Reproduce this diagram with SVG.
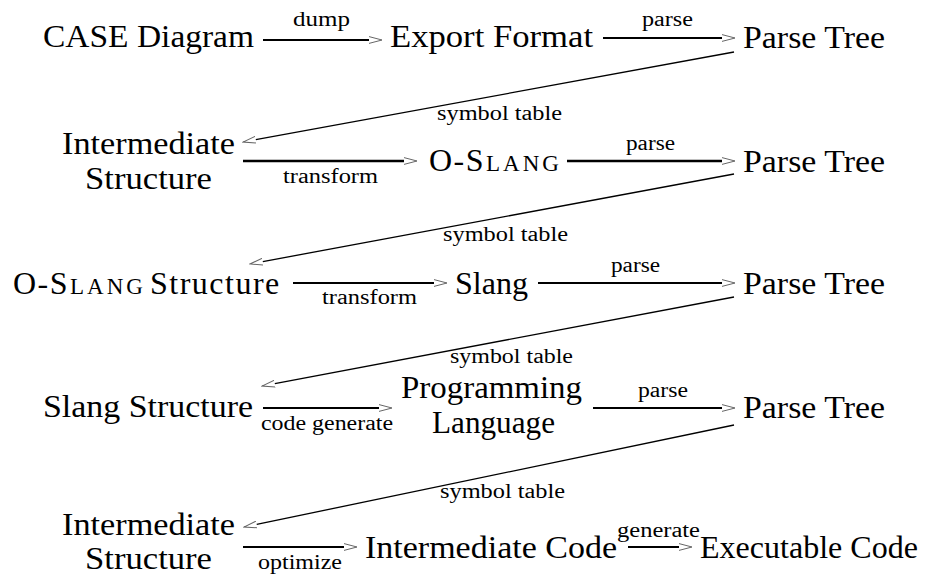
<svg xmlns="http://www.w3.org/2000/svg" width="933" height="577" viewBox="0 0 933 577">
<style>
.n{font-size:32px;fill:#000}
.l{font-size:20px;fill:#000}
.sc{font-size:23px}
.h{fill:none;stroke:#000;stroke-width:2}
.d{fill:none;stroke:#000;stroke-width:1.3}
</style>
<defs>
<marker id="ah" viewBox="0 0 14 8" refX="0" refY="4" markerWidth="14" markerHeight="8" orient="auto" markerUnits="userSpaceOnUse">
<path d="M0,0.6 L13,4 L0,7.4" fill="none" stroke="#666" stroke-width="1"/>
</marker>
</defs>
<rect width="933" height="577" fill="#fff"/>
<g font-family="'Liberation Serif', 'Times New Roman', 'DejaVu Serif', serif">
<g id="connectors">
<path class="h" d="M263,40 H369" marker-end="url(#ah)"/>
<path class="h" d="M603,38 H722" marker-end="url(#ah)"/>
<path class="d" d="M734,52 L255.8,139.7" marker-end="url(#ah)"/>
<path class="h" style="stroke-width:2.5" d="M243,161 H404" marker-end="url(#ah)"/>
<path class="h" style="stroke-width:2.5" d="M567,161 H722" marker-end="url(#ah)"/>
<path class="d" d="M734,174 L262.8,261.6" marker-end="url(#ah)"/>
<path class="h" d="M293,283 H434" marker-end="url(#ah)"/>
<path class="h" d="M538,283 H722" marker-end="url(#ah)"/>
<path class="d" d="M734,297 L274.8,383.6" marker-end="url(#ah)"/>
<path class="h" d="M263,408 H379" marker-end="url(#ah)"/>
<path class="h" d="M593,408 H722" marker-end="url(#ah)"/>
<path class="d" d="M734,425 L256.7,524.4" marker-end="url(#ah)"/>
<path class="h" d="M243,547 H344" marker-end="url(#ah)"/>
<path class="h" d="M628,547 H679" marker-end="url(#ah)"/>
<text class="l" x="293" y="26" textLength="57" lengthAdjust="spacingAndGlyphs">dump</text>
<text class="l" x="642" y="26" textLength="51" lengthAdjust="spacingAndGlyphs">parse</text>
<text class="l" x="437" y="120" textLength="125" lengthAdjust="spacingAndGlyphs">symbol table</text>
<text class="l" x="283" y="183" textLength="95" lengthAdjust="spacingAndGlyphs">transform</text>
<text class="l" x="626" y="150" textLength="49" lengthAdjust="spacingAndGlyphs">parse</text>
<text class="l" x="443" y="241" textLength="125" lengthAdjust="spacingAndGlyphs">symbol table</text>
<text class="l" x="322" y="304" textLength="95" lengthAdjust="spacingAndGlyphs">transform</text>
<text class="l" x="611" y="272" textLength="49" lengthAdjust="spacingAndGlyphs">parse</text>
<text class="l" x="450" y="363" textLength="123" lengthAdjust="spacingAndGlyphs">symbol table</text>
<text class="l" x="261" y="430" textLength="132" lengthAdjust="spacingAndGlyphs">code generate</text>
<text class="l" x="638" y="397" textLength="50" lengthAdjust="spacingAndGlyphs">parse</text>
<text class="l" x="440" y="498" textLength="125" lengthAdjust="spacingAndGlyphs">symbol table</text>
<text class="l" x="258" y="569" textLength="84" lengthAdjust="spacingAndGlyphs">optimize</text>
<text class="l" x="617" y="537" textLength="83" lengthAdjust="spacingAndGlyphs">generate</text>
</g>
<g id="case-diagram"><text class="n" x="43" y="47" textLength="211" lengthAdjust="spacingAndGlyphs">CASE Diagram</text></g>
<g id="export-format"><text class="n" x="390" y="47" textLength="203" lengthAdjust="spacingAndGlyphs">Export Format</text></g>
<g id="parse-tree-1"><text class="n" x="743" y="48" textLength="142" lengthAdjust="spacingAndGlyphs">Parse Tree</text></g>
<g id="intermediate-structure-1">
<text class="n" x="62" y="154" textLength="173" lengthAdjust="spacingAndGlyphs">Intermediate</text>
<text class="n" x="85" y="189" textLength="127" lengthAdjust="spacingAndGlyphs">Structure</text>
</g>
<g id="o-slang"><text class="n" x="429" y="171" letter-spacing="1.5">O-S<tspan class="sc" dx="1" letter-spacing="3">LANG</tspan></text></g>
<g id="parse-tree-2"><text class="n" x="743" y="172" textLength="142" lengthAdjust="spacingAndGlyphs">Parse Tree</text></g>
<g id="o-slang-structure"><text class="n" x="13" y="294" letter-spacing="1.5">O-S<tspan class="sc" dx="1" letter-spacing="3">LANG</tspan><tspan x="150" letter-spacing="1.5">Structure</tspan></text></g>
<g id="slang"><text class="n" x="455" y="294" textLength="73" lengthAdjust="spacingAndGlyphs">Slang</text></g>
<g id="parse-tree-3"><text class="n" x="743" y="294" textLength="142" lengthAdjust="spacingAndGlyphs">Parse Tree</text></g>
<g id="slang-structure"><text class="n" x="43" y="417" textLength="210" lengthAdjust="spacingAndGlyphs">Slang Structure</text></g>
<g id="programming-language">
<text class="n" x="401" y="398" textLength="181" lengthAdjust="spacingAndGlyphs">Programming</text>
<text class="n" x="432" y="433" textLength="123" lengthAdjust="spacingAndGlyphs">Language</text>
</g>
<g id="parse-tree-4"><text class="n" x="743" y="418" textLength="142" lengthAdjust="spacingAndGlyphs">Parse Tree</text></g>
<g id="intermediate-structure-2">
<text class="n" x="62" y="535" textLength="173" lengthAdjust="spacingAndGlyphs">Intermediate</text>
<text class="n" x="85" y="569" textLength="127" lengthAdjust="spacingAndGlyphs">Structure</text>
</g>
<g id="intermediate-code"><text class="n" x="365" y="558" textLength="252" lengthAdjust="spacingAndGlyphs">Intermediate Code</text></g>
<g id="executable-code"><text class="n" x="700" y="558" textLength="218" lengthAdjust="spacingAndGlyphs">Executable Code</text></g>
</g>
</svg>
